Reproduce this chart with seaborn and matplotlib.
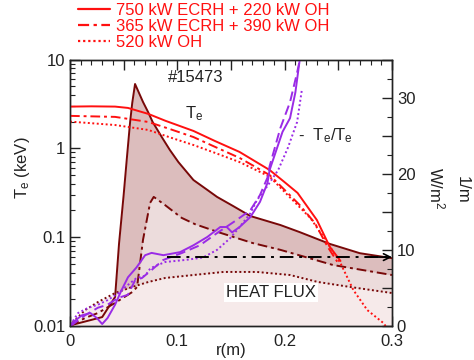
import matplotlib
matplotlib.use('Agg')
import matplotlib.pyplot as plt
import seaborn as sns
from matplotlib.lines import Line2D
from matplotlib.ticker import MultipleLocator, LogLocator, FixedLocator, FuncFormatter, NullFormatter

# electron temperature profiles (keV)
te_r_750 = [0, 0.02, 0.042, 0.054, 0.073, 0.089, 0.115, 0.135, 0.158, 0.172, 0.186, 0.1985, 0.212, 0.230, 0.242, 0.252]
te_750 = [2.95, 2.97, 2.95, 2.85, 2.44, 2.04, 1.57, 1.21, 0.91, 0.72, 0.57, 0.43, 0.315, 0.156, 0.078, 0.054]
te_r_365 = [0, 0.042, 0.073, 0.093, 0.115, 0.135, 0.158, 0.172, 0.186, 0.2, 0.214, 0.228, 0.240, 0.249]
te_365 = [2.32, 2.26, 1.98, 1.65, 1.34, 1.04, 0.78, 0.625, 0.50, 0.34, 0.23, 0.145, 0.078, 0.053]
te_r_520 = [0, 0.042, 0.073, 0.093, 0.115, 0.135, 0.158, 0.172, 0.186, 0.205, 0.224, 0.240, 0.252, 0.264, 0.277, 0.292, 0.294]
te_520 = [2.0, 1.83, 1.61, 1.33, 1.09, 0.89, 0.70, 0.58, 0.48, 0.28, 0.164, 0.086, 0.051, 0.0254, 0.0151, 0.0108, 0.0100]

# heat flux profiles (left log scale)
hf_r_750 = [0, 0.002, 0.030, 0.042, 0.0457, 0.050, 0.053, 0.056, 0.058, 0.0606, 0.0643, 0.068, 0.0727, 0.077,
            0.086, 0.093, 0.101, 0.115, 0.128, 0.137, 0.152, 0.168, 0.196, 0.214, 0.242, 0.270, 0.300]
hf_750 = [0.01, 0.0103, 0.0126, 0.0212, 0.085, 0.30, 0.78, 1.98, 3.25, 5.3, 4.2, 3.33, 2.57, 1.98,
          1.31, 0.96, 0.70, 0.44, 0.34, 0.284, 0.224, 0.173, 0.137, 0.114, 0.084, 0.066, 0.058]
hf_r_365 = [0, 0.002, 0.014, 0.026, 0.042, 0.058, 0.0625, 0.068, 0.0746, 0.078, 0.0885, 0.104, 0.1165, 0.14,
            0.17, 0.196, 0.205, 0.245, 0.300]
hf_365 = [0.01, 0.0103, 0.0123, 0.014, 0.0182, 0.0241, 0.0275, 0.093, 0.243, 0.284, 0.23, 0.165, 0.140, 0.112,
          0.086, 0.072, 0.067, 0.0486, 0.0375]
hf_r_520 = [0, 0.002, 0.014, 0.026, 0.042, 0.058, 0.073, 0.0885, 0.115, 0.143, 0.174, 0.205, 0.231, 0.261, 0.300]
hf_520 = [0.01, 0.0108, 0.0151, 0.0186, 0.0235, 0.0275, 0.0313, 0.0347, 0.0375, 0.0406, 0.0406, 0.0375,
          0.0313, 0.0275, 0.0235]

# Te'/Te profiles (right axis, 1/m)
gr_r_750 = [0, 0.002, 0.011, 0.019, 0.025, 0.030, 0.035, 0.042, 0.048, 0.054, 0.062, 0.070, 0.076, 0.087,
            0.1025, 0.115, 0.128, 0.140, 0.146, 0.151, 0.158, 0.168, 0.177, 0.184, 0.186, 0.198, 0.205, 0.210, 0.215]
gr_750 = [0.2, 0.4, 1.4, 1.7, 1.05, 0.26, 1.05, 2.8, 4.7, 6.4, 7.7, 9.3, 9.6, 9.3,
          9.7, 10.6, 11.7, 13.0, 13.0, 12.3, 13.0, 14.3, 16.3, 18.8, 20.5, 25.5, 27.3, 30.7, 36]
gr_r_365 = [0, 0.002, 0.014, 0.026, 0.035, 0.045, 0.054, 0.0606, 0.067, 0.076, 0.0867, 0.1045, 0.121, 0.137,
            0.155, 0.168, 0.177, 0.184, 0.186, 0.196, 0.205, 0.2116, 0.215]
gr_365 = [0.1, 0.15, 1.4, 2.4, 2.8, 3.7, 4.1, 6.0, 6.3, 7.35, 8.66, 9.6, 10.6, 12.2,
          13.9, 15.2, 17.2, 19.5, 21.0, 26.0, 29.4, 33.3, 35.5]
gr_r_520 = [0, 0.002, 0.0075, 0.017, 0.026, 0.035, 0.045, 0.054, 0.062, 0.070, 0.075, 0.0885, 0.109, 0.124,
            0.137, 0.149, 0.158, 0.168, 0.174, 0.1845, 0.194, 0.203, 0.2116, 0.216]
gr_520 = [0.2, 0.5, 1.7, 2.4, 2.8, 3.4, 4.3, 5.4, 6.3, 6.6, 7.6, 8.4, 8.7, 9.0,
          10.0, 11.5, 13.0, 14.8, 16.5, 18.5, 20.5, 23.4, 26.8, 31.0]

arrow_r = [0.09, 0.3]
arrow_level = 9.05

labels = ['750 kW ECRH + 220 kW OH', '365 kW ECRH + 390 kW OH', '520 kW OH']

RED = '#ff1010'
DARK = '#780808'
PURPLE = '#9a2be6'
DASHDOT = (0, (5, 2, 1.5, 2))
DASHED = (0, (5, 2.5))
DOTTED = (0, (1, 1.3))

sns.set_theme(style='ticks')
plt.rcParams['font.family'] = ['Liberation Sans', 'DejaVu Sans']
plt.rcParams['mathtext.fontset'] = 'custom'
plt.rcParams['mathtext.rm'] = 'Liberation Sans'
plt.rcParams['mathtext.it'] = 'Liberation Sans:italic'
plt.rcParams['font.size'] = 12

fig = plt.figure(figsize=(4.74, 3.6), dpi=100)
ax = fig.add_axes([70 / 474, 1 - 326 / 360, 322 / 474, 266.5 / 360])
ax2 = ax.twinx()

# heat flux fills, layered
ax.fill_between(hf_r_750, 0.01, hf_750, color='#dcbdbd', lw=0, zorder=1)
ax.fill_between(hf_r_365, 0.01, hf_365, color='#ecdcdc', lw=0, zorder=1)
ax.fill_between(hf_r_520, 0.01, hf_520, color='#f6eaea', lw=0, zorder=1)

for r, q, ls in [(hf_r_750, hf_750, '-'), (hf_r_365, hf_365, DASHDOT), (hf_r_520, hf_520, DOTTED)]:
    sns.lineplot(x=r, y=q, ax=ax, color=DARK, lw=1.4, linestyle=ls, estimator=None, sort=False, zorder=3)

for r, t, ls in [(te_r_750, te_750, '-'), (te_r_365, te_365, DASHDOT), (te_r_520, te_520, DOTTED)]:
    sns.lineplot(x=r, y=t, ax=ax, color=RED, lw=1.4, linestyle=ls, estimator=None, sort=False, zorder=4)

for r, g, ls in [(gr_r_750, gr_750, '-'), (gr_r_365, gr_365, DASHED), (gr_r_520, gr_520, DOTTED)]:
    sns.lineplot(x=r, y=g, ax=ax2, color=PURPLE, lw=1.4, linestyle=ls, estimator=None, sort=False)

sns.lineplot(x=arrow_r, y=[arrow_level] * 2, ax=ax2, color='black', lw=1.4, linestyle=(0, (7, 3, 1.5, 3)))
ax2.annotate('', xy=(arrow_r[1], arrow_level), xytext=(arrow_r[1] - 0.02, arrow_level),
             arrowprops=dict(arrowstyle='->', color='black', lw=1.2, shrinkA=0, shrinkB=0, mutation_scale=12))

# axes
ax.set_xlim(0, 0.3)
ax.set_yscale('log')
ax.set_ylim(0.01, 10)
ax.yaxis.set_major_locator(FixedLocator([0.01, 0.1, 1, 10]))
ax.yaxis.set_major_formatter(FuncFormatter(lambda v, p: f'{v:g}'))
ax.yaxis.set_minor_locator(LogLocator(base=10, subs=range(2, 10)))
ax.yaxis.set_minor_formatter(NullFormatter())
ax.xaxis.set_major_locator(MultipleLocator(0.05))
ax.xaxis.set_major_formatter(FuncFormatter(
    lambda v, p: f'{v:g}' if abs(v / 0.1 - round(v / 0.1)) < 1e-6 else ''))
ax.xaxis.set_minor_locator(MultipleLocator(0.01))

ax2.set_ylim(0, 35)
ax2.yaxis.set_major_locator(MultipleLocator(5))
ax2.yaxis.set_major_formatter(FuncFormatter(lambda v, p: f'{v:g}' if int(round(v)) % 10 == 0 else ''))
ax2.yaxis.set_minor_locator(MultipleLocator(2.5))

ax.tick_params(which='both', direction='in', top=True, right=False, labelsize=12, colors='#222222')
ax.tick_params(which='major', length=7, width=1)
ax.tick_params(which='minor', length=3.5, width=0.8)
ax.tick_params(axis='x', pad=6)
ax2.tick_params(which='both', direction='in', labelsize=12, colors='#222222')
ax2.tick_params(which='major', length=7, width=1)
ax2.tick_params(which='minor', length=3.5, width=0.8)
for a in (ax, ax2):
    for s in a.spines.values():
        s.set_color('#222222')
        s.set_linewidth(1.0)

ax.set_xlabel('r(m)', fontsize=12, color='#222222')
ax.xaxis.set_label_coords(0.5, -0.062)
ax.set_ylabel('')
ax2.set_ylabel('')
fig.text(22 / 474, 1 - 168 / 360, r'T$_\mathrm{e}$ (keV)', rotation=90, ha='center', va='center',
         fontsize=12, color='#222222')
fig.text(437 / 474, 1 - 188 / 360, r'W/m$^\mathrm{2}$', rotation=270, ha='center', va='center',
         fontsize=12, color='#222222')
fig.text(462 / 474, 1 - 190 / 360, '1/m', rotation=270, ha='center', va='center',
         fontsize=12, color='#222222')

ax.text(0.304, 0.934, '#15473', transform=ax.transAxes, fontsize=12, va='center', color='#222222')
ax.text(0.357, 0.78, r'T$_\mathrm{e}$', transform=ax.transAxes, fontsize=12, va='baseline', color='#222222')
ax.text(0.708, 0.698, r'-  T$_\mathrm{e}$/T$_\mathrm{e}$', transform=ax.transAxes, fontsize=12,
        va='baseline', color='#222222')
ax.text(0.624, 0.124, 'HEAT FLUX', transform=ax.transAxes, fontsize=12, ha='center', va='center',
        color='#222222', zorder=6, bbox=dict(fc='white', ec='none', pad=1.5))

handles = [Line2D([], [], color=RED, lw=1.6, linestyle=ls) for ls in ['-', DASHDOT, DOTTED]]
fig.legend(handles, labels, loc='upper left', bbox_to_anchor=(78 / 474, 1 - 3 / 360), frameon=False,
           fontsize=12, labelcolor=RED, handlelength=1.9, handletextpad=0.35, labelspacing=0.07,
           borderpad=0, borderaxespad=0)

fig.savefig('out.png', dpi=100)
